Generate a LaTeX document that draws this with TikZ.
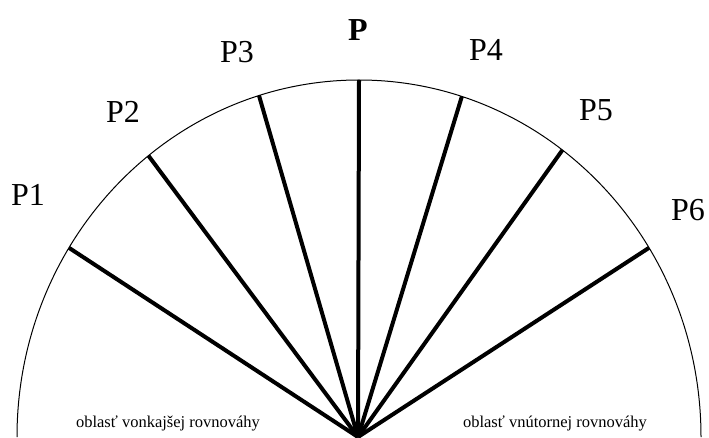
\documentclass[tikz,border=0pt]{standalone}
\usepackage{fontspec}
\setmainfont{Liberation Serif}
\usetikzlibrary{calc}
\begin{document}
\begin{tikzpicture}[x=1pt,y=1pt,
  spoke/.style={line width=4pt},
  rim/.style={line width=1pt},
  plabel/.style={font=\fontsize{32}{32}\selectfont, inner sep=0pt},
  region/.style={font=\fontsize{16.5}{16.5}\selectfont, inner sep=0pt}]
\useasboundingbox (0,0) rectangle (709,437);
\coordinate (C) at (358,0);
\coordinate (O) at (359,0);
\draw[rim] ([shift={(180:342 and 357)}]O) arc[start angle=180, end angle=0, x radius=342, y radius=357];
\foreach \n/\a in {p1/148, p2/128, p3/107, p0/90, p4/72.5, p5/53.5, p6/32} {
  \coordinate (\n) at ($(O)+(\a:342 and 357)$);
}
\foreach \n in {p1,p2,p3,p0,p4,p5,p6} {
  \draw[spoke, line cap=butt] (C) -- (\n);
}
\node[plabel] (l1) at (28,242) {P1};
\node[plabel] (l2) at (123,325) {P2};
\node[plabel] (l3) at (237,385) {P3};
\node[plabel, font=\fontsize{32}{32}\selectfont\bfseries] (l0) at (358,407) {P};
\node[plabel] (l4) at (486,387) {P4};
\node[plabel] (l5) at (596,327) {P5};
\node[plabel] (l6) at (688,227) {P6};
\node[region] (r1) at (168,14) {oblasť vonkajšej rovnováhy};
\node[region] (r2) at (555,14) {oblasť vnútornej rovnováhy};
\end{tikzpicture}
\end{document}
